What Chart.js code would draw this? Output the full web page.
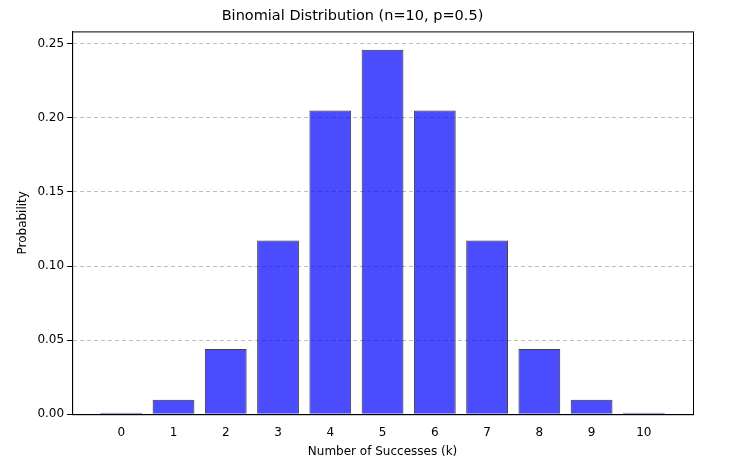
<!DOCTYPE html>
<html><head><script src="https://cdn.jsdelivr.net/npm/chart.js"></script>
<style>body{margin:0;background:#fff}#w{width:749px;height:467px}</style></head>
<body><div id="w"><canvas id="c"></canvas></div>
<script>
const ks=[0,1,2,3,4,5,6,7,8,9,10];
const probs=[0.000977,0.009766,0.043945,0.117188,0.205078,0.246094,0.205078,0.117188,0.043945,0.009766,0.000977];
const yTicks=[0,0.05,0.10,0.15,0.20,0.25];
const F='"DejaVu Sans"';
new Chart(document.getElementById('c'),{
type:'bar',
data:{datasets:[{data:ks.map((k,i)=>({x:k,y:probs[i]})),backgroundColor:'rgba(0,0,255,0.7)',borderColor:'rgba(0,0,0,0.75)',borderWidth:1,barPercentage:0.8,categoryPercentage:1}]},
options:{responsive:true,maintainAspectRatio:false,animation:false,
layout:{padding:{left:12,right:56,top:6,bottom:4}},
plugins:{legend:{display:false},tooltip:{enabled:false},
title:{display:true,text:'Binomial Distribution (n=10, p=0.5)',color:'#000',font:{family:F,size:14.5,weight:'normal'},padding:{top:2,bottom:6}}},
scales:{
x:{type:'linear',offset:false,min:-0.94,max:10.94,afterBuildTicks:s=>{s.ticks=ks.map(v=>({value:v}))},
grid:{display:false},border:{color:'#000'},
ticks:{color:'#000',font:{family:F,size:12},callback:v=>String(v)},
title:{display:true,text:'Number of Successes (k)',color:'#000',font:{family:F,size:12},padding:{top:2}}},
y:{min:0,max:0.2584,afterBuildTicks:s=>{s.ticks=yTicks.map(v=>({value:v}))},
grid:{color:'rgba(0,0,0,0.25)',tickColor:'#000',tickLength:5},border:{color:'#000',dash:[4,3]},
ticks:{color:'#000',font:{family:F,size:12},callback:v=>v.toFixed(2)},
title:{display:true,text:'Probability',color:'#000',font:{family:F,size:12},padding:{bottom:4}}}
}},
plugins:[{id:'frame',afterDraw(c){const a=c.chartArea,x=c.ctx;x.save();x.strokeStyle='#000';x.lineWidth=1;x.setLineDash([]);x.strokeRect(a.left+0.5,a.top+0.5,a.right-a.left,a.bottom-a.top);x.restore();}}]
});
</script></body></html>
